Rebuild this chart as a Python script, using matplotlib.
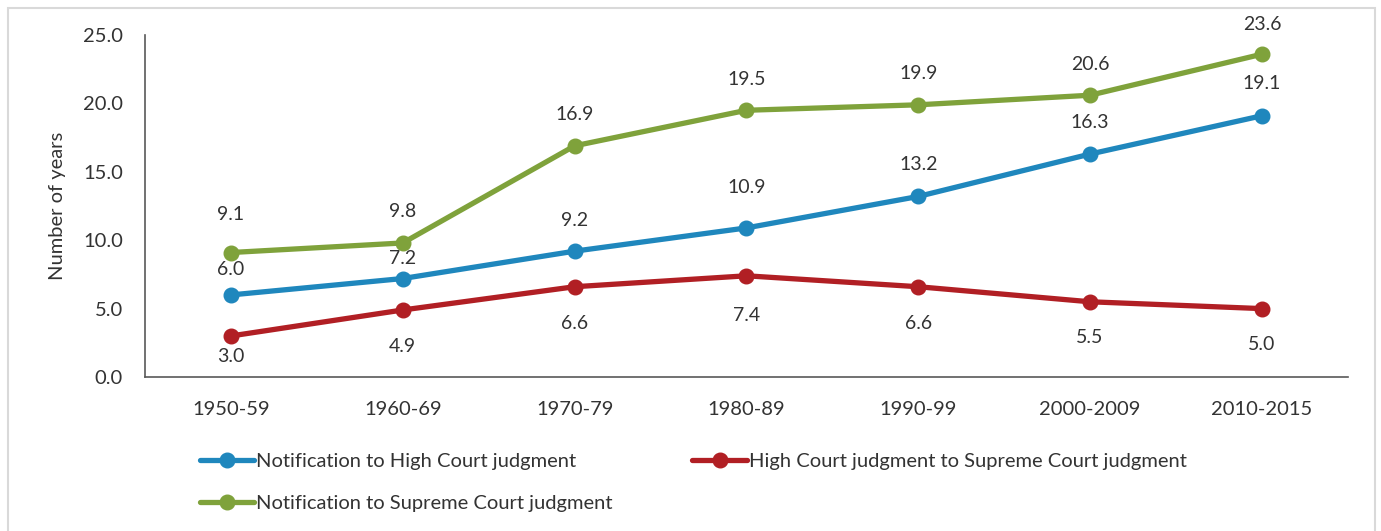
"""Time taken from notification to court judgments, by decade."""

import matplotlib

matplotlib.use("Agg")
import matplotlib.pyplot as plt
from matplotlib.patches import Rectangle

decades = ["1950-59", "1960-69", "1970-79", "1980-89", "1990-99", "2000-2009", "2010-2015"]
notif_to_hc = [6.0, 7.2, 9.2, 10.9, 13.2, 16.3, 19.1]
hc_to_sc = [3.0, 4.9, 6.6, 7.4, 6.6, 5.5, 5.0]
notif_to_sc = [9.1, 9.8, 16.9, 19.5, 19.9, 20.6, 23.6]

BLUE = "#1f87bd"
RED = "#b11f24"
GREEN = "#7fa23b"
TEXT = "#333333"

plt.rcParams["font.family"] = ["Lato", "DejaVu Sans"]
plt.rcParams["text.color"] = TEXT

fig = plt.figure(figsize=(13.81, 5.31), dpi=100)
ax = fig.add_axes([0.105, 0.29, 0.871, 0.644])

x = range(len(decades))
# label offsets in pixels (as placed in the original chart)
series = [
    (notif_to_hc, BLUE, "Notification to High Court judgment", [25, 20, 31, 40, 32, 32, 32]),
    (notif_to_sc, GREEN, "Notification to Supreme Court judgment", [38, 31, 31, 31, 31, 31, 30]),
    (hc_to_sc, RED, "High Court judgment to Supreme Court judgment",
     [-21, -37, -37, -40, -37, -36, -36]),
]
for values, color, label, offs in series:
    ax.plot(x, values, color=color, lw=3.8, marker="o", ms=10.5, label=label,
            solid_capstyle="round", zorder=3)
    for i, v in enumerate(values):
        ax.annotate(f"{v:.1f}", (i, v), xytext=(0, offs[i]), textcoords="offset pixels",
                    ha="center", va="center", fontsize=14, color=TEXT)

ax.set_xlim(-0.5, len(decades) - 0.5)
ax.set_ylim(0, 25)
ax.set_yticks([0, 5, 10, 15, 20, 25])
ax.set_yticklabels([f"{t:.1f}" for t in [0, 5, 10, 15, 20, 25]])
ax.set_xticks(list(x))
ax.set_xticklabels(decades)
ax.tick_params(length=0, labelsize=14.5, colors=TEXT)
ax.tick_params(axis="y", pad=16)
ax.tick_params(axis="x", pad=17)
ax.set_ylabel("Number of years", fontsize=14.5, color=TEXT, labelpad=12)

for side in ["top", "right"]:
    ax.spines[side].set_visible(False)
for side in ["left", "bottom"]:
    ax.spines[side].set_color("#595959")
    ax.spines[side].set_linewidth(1.2)

ax.legend(loc="upper left", bbox_to_anchor=(0.139, 0.163), bbox_transform=fig.transFigure,
          ncol=2, frameon=False, fontsize=14.5, handlelength=2.7, handletextpad=0.1,
          columnspacing=3.95, labelspacing=1.25, borderaxespad=0)

fig.patches.append(Rectangle((0.006, -0.01), 0.99, 0.995, transform=fig.transFigure,
                             fill=False, edgecolor="#d9d9d9", lw=1.5))

fig.savefig("out.png", dpi=100)
